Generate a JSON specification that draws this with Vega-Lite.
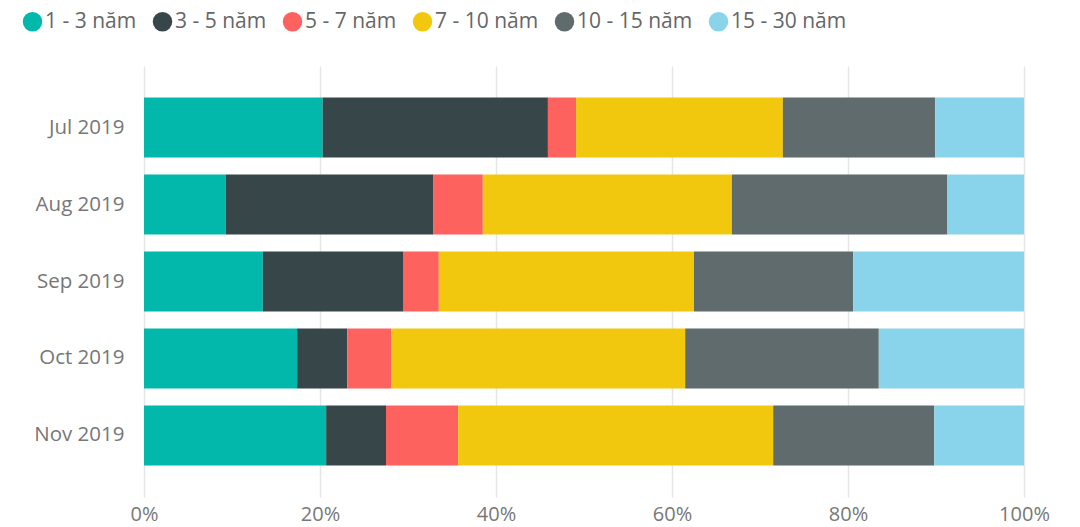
{
  "$schema": "https://vega.github.io/schema/vega-lite/v6.json",
  "width": 880,
  "height": 431,
  "autosize": {"type": "none"},
  "padding": {"left": 144, "top": 66, "right": 56, "bottom": 30},
  "config": {
    "view": {"stroke": null},
    "font": "Open Sans"
  },
  "data": {
    "values": [
      {"month": "Jul 2019", "group": "1 - 3 năm", "o": 1, "pct": 20.3},
      {"month": "Jul 2019", "group": "3 - 5 năm", "o": 2, "pct": 25.6},
      {"month": "Jul 2019", "group": "5 - 7 năm", "o": 3, "pct": 3.2},
      {"month": "Jul 2019", "group": "7 - 10 năm", "o": 4, "pct": 23.5},
      {"month": "Jul 2019", "group": "10 - 15 năm", "o": 5, "pct": 17.3},
      {"month": "Jul 2019", "group": "15 - 30 năm", "o": 6, "pct": 10.1},
      {"month": "Aug 2019", "group": "1 - 3 năm", "o": 1, "pct": 9.3},
      {"month": "Aug 2019", "group": "3 - 5 năm", "o": 2, "pct": 23.6},
      {"month": "Aug 2019", "group": "5 - 7 năm", "o": 3, "pct": 5.6},
      {"month": "Aug 2019", "group": "7 - 10 năm", "o": 4, "pct": 28.3},
      {"month": "Aug 2019", "group": "10 - 15 năm", "o": 5, "pct": 24.5},
      {"month": "Aug 2019", "group": "15 - 30 năm", "o": 6, "pct": 8.7},
      {"month": "Sep 2019", "group": "1 - 3 năm", "o": 1, "pct": 13.5},
      {"month": "Sep 2019", "group": "3 - 5 năm", "o": 2, "pct": 16.0},
      {"month": "Sep 2019", "group": "5 - 7 năm", "o": 3, "pct": 4.0},
      {"month": "Sep 2019", "group": "7 - 10 năm", "o": 4, "pct": 29.0},
      {"month": "Sep 2019", "group": "10 - 15 năm", "o": 5, "pct": 18.1},
      {"month": "Sep 2019", "group": "15 - 30 năm", "o": 6, "pct": 19.4},
      {"month": "Oct 2019", "group": "1 - 3 năm", "o": 1, "pct": 17.4},
      {"month": "Oct 2019", "group": "3 - 5 năm", "o": 2, "pct": 5.7},
      {"month": "Oct 2019", "group": "5 - 7 năm", "o": 3, "pct": 5.0},
      {"month": "Oct 2019", "group": "7 - 10 năm", "o": 4, "pct": 33.4},
      {"month": "Oct 2019", "group": "10 - 15 năm", "o": 5, "pct": 22.0},
      {"month": "Oct 2019", "group": "15 - 30 năm", "o": 6, "pct": 16.5},
      {"month": "Nov 2019", "group": "1 - 3 năm", "o": 1, "pct": 20.7},
      {"month": "Nov 2019", "group": "3 - 5 năm", "o": 2, "pct": 6.8},
      {"month": "Nov 2019", "group": "5 - 7 năm", "o": 3, "pct": 8.2},
      {"month": "Nov 2019", "group": "7 - 10 năm", "o": 4, "pct": 35.8},
      {"month": "Nov 2019", "group": "10 - 15 năm", "o": 5, "pct": 18.3},
      {"month": "Nov 2019", "group": "15 - 30 năm", "o": 6, "pct": 10.2}
    ]
  },
  "mark": {"type": "bar"},
  "encoding": {
    "y": {
      "field": "month",
      "type": "nominal",
      "sort": ["Jul 2019", "Aug 2019", "Sep 2019", "Oct 2019", "Nov 2019"],
      "scale": {"paddingInner": 0.22, "paddingOuter": 0.41},
      "axis": {
        "title": null,
        "domain": false,
        "ticks": false,
        "labelFontSize": 20.5,
        "labelColor": "#777777",
        "labelPadding": 20,
        "labelFont": "Open Sans"
      }
    },
    "x": {
      "field": "pct",
      "type": "quantitative",
      "stack": "normalize",
      "axis": {
        "title": null,
        "format": ".0%",
        "values": [0, 0.2, 0.4, 0.6, 0.8, 1],
        "domain": false,
        "ticks": false,
        "labelFlush": false,
        "gridColor": "#e6e6e6",
        "gridWidth": 1.5,
        "labelFontSize": 20,
        "labelColor": "#777777",
        "labelPadding": 7,
        "labelFont": "Open Sans"
      }
    },
    "color": {
      "field": "group",
      "type": "nominal",
      "sort": ["1 - 3 năm", "3 - 5 năm", "5 - 7 năm", "7 - 10 năm", "10 - 15 năm", "15 - 30 năm"],
      "scale": {
        "domain": ["1 - 3 năm", "3 - 5 năm", "5 - 7 năm", "7 - 10 năm", "10 - 15 năm", "15 - 30 năm"],
        "range": ["#01B8AA", "#374649", "#FD625E", "#F2C80F", "#5F6B6D", "#8AD4EB"]
      },
      "legend": {
        "title": null,
        "orient": "none",
        "legendX": -122,
        "legendY": -55,
        "direction": "horizontal",
        "columns": 6,
        "symbolType": "circle",
        "symbolSize": 380,
        "symbolStrokeWidth": 0,
        "labelFontSize": 21,
        "labelColor": "#666666",
        "labelFont": "Open Sans",
        "labelOffset": 2,
        "columnPadding": 15
      }
    },
    "order": {"field": "o", "type": "quantitative"}
  }
}
